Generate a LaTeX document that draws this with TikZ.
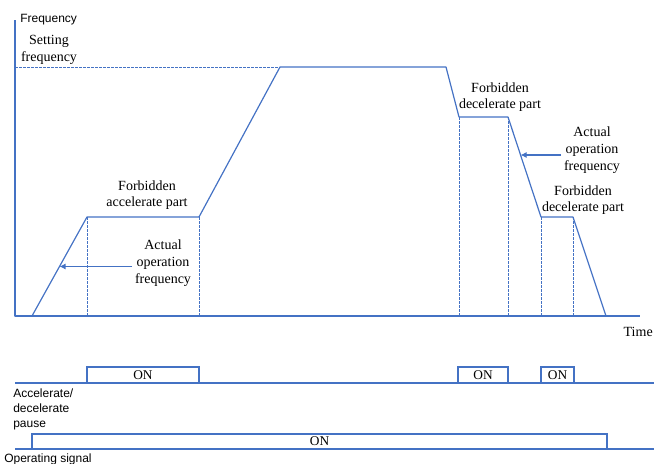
\documentclass[tikz,border=0pt]{standalone}
\usepackage{fontspec}
\setmainfont{Liberation Serif}
\setsansfont{Liberation Sans}
\usetikzlibrary{arrows.meta, calc}

\definecolor{lineblue}{RGB}{68,114,196}

\begin{document}
\begin{tikzpicture}[x=0.75pt, y=-0.75pt,
        freqline/.style={draw=lineblue, line width=0.9pt, line join=round},
        guide/.style={draw=lineblue, line width=0.5pt, dash pattern=on 2pt off 1pt},
        txt/.style={font=\fontsize{10.5}{12.5}\selectfont, align=center, inner sep=0pt},
        sanstxt/.style={font=\sffamily\fontsize{9}{11.25}\selectfont, align=left, inner sep=0pt},
        onbox/.style={draw=lineblue, line width=0.8pt, inner sep=0pt, font=\fontsize{10}{12}\selectfont},
        pointer/.style={draw=lineblue, line width=0.8pt, -{Latex[length=4.5pt, width=4.5pt]}}
    ]
    \useasboundingbox (0,0) rectangle (654,464);

    % axes and frequency curve
    \coordinate (o) at (15,316);
    \coordinate (ytop) at (15,20);
    \coordinate (xend) at (640,316);
    \coordinate (s0) at (32,316);
    \coordinate (s1) at (87,217);
    \coordinate (s2) at (199,217);
    \coordinate (s3) at (280,67);
    \coordinate (s4) at (446,67);
    \coordinate (s5) at (459,117);
    \coordinate (s6) at (508,117);
    \coordinate (s7) at (541,217);
    \coordinate (s8) at (573,217);
    \coordinate (s9) at (606,316);

    \draw[freqline] (ytop) -- (o) -- (xend);
    \draw[guide] (o |- s3) -- (s3);
    \draw[freqline] (s0) -- (s1) -- (s2) -- (s3) -- (s4) -- (s5) -- (s6) -- (s7) -- (s8) -- (s9);
    \foreach \p in {s1, s2, s5, s6, s7, s8}
        \draw[guide] (\p) -- (\p |- o);

    \node[sanstxt, anchor=base west] (freq) at (20,22) {Frequency};
    \node[txt] (setf) at (49,50) {Setting\\frequency};
    \node[txt, anchor=base east] (time) at (653,336) {Time};
    \node[txt] (accpart) at (147,195) {Forbidden\\accelerate part};
    \node[txt] (decpartA) at (500,97) {Forbidden\\decelerate part};
    \node[txt] (decpartB) at (583,200) {Forbidden\\decelerate part};
    \node[txt] (actA) at (163,263) {Actual\\operation\\frequency};
    \node[txt] (actB) at (592,150) {Actual\\operation\\frequency};

    \coordinate (m1) at ($(s0)!0.5!(s1)$);
    \coordinate (m2) at ($(s6)!0.38!(s7)$);
    \draw[pointer] ([xshift=-2pt]m1 -| actA.west) -- (m1);
    \draw[pointer] ([xshift=-2pt]m2 -| actB.west) -- (m2);

    % signals
    \coordinate (pauseA) at (15,383);
    \coordinate (pauseB) at (654,383);
    \coordinate (runA) at (15,449);
    \coordinate (runB) at (654,449);
    \draw[freqline] (pauseA) -- (pauseB);
    \draw[freqline] (runA) -- (runB);

    \node[onbox, minimum width=84pt, minimum height=12pt] (on1) at (143,375) {ON};
    \node[onbox, minimum width=37.5pt, minimum height=12pt] (on2) at (483,375) {ON};
    \node[onbox, minimum width=24.75pt, minimum height=12pt] (on3) at (557.5,375) {ON};
    \node[onbox, minimum width=431.25pt, minimum height=11.25pt] (onrun) at (319.5,441.5) {ON};

    \node[sanstxt, anchor=west] (pause) at (13,409) {Accelerate/\\decelerate\\pause};
    \node[sanstxt, anchor=base west] (runsig) at (4,462) {Operating signal};
\end{tikzpicture}
\end{document}
